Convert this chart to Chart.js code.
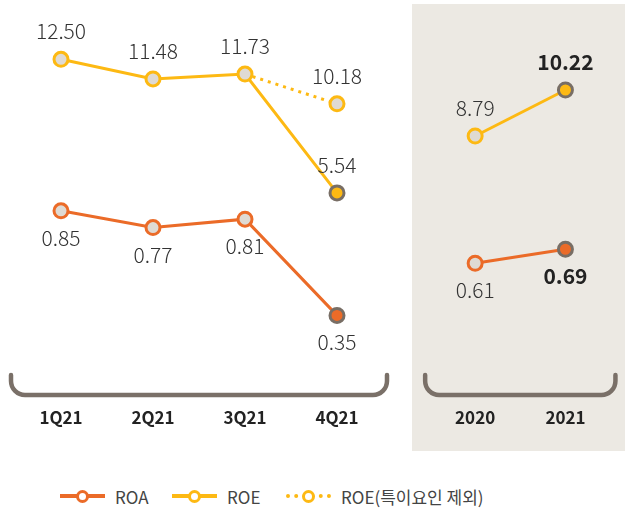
<!DOCTYPE html>
<html>
<head>
<meta charset="utf-8">
<script src="https://cdn.jsdelivr.net/npm/chart.js@4"></script>
<style>
    html, body { margin: 0; padding: 0; background: #fff; }
    body { width: 625px; height: 510px; position: relative; overflow: hidden; font-family: 'Noto Sans CJK KR', 'Noto Sans', sans-serif; }
    #panel { position: absolute; left: 412px; top: 4px; width: 213px; height: 447px; background: #ECE9E3; }
    #quarterChart { position: absolute; left: 0; top: 0; }
    #yearChart { position: absolute; left: 412px; top: 0; }
    .legend { position: absolute; top: 483px; left: 0; width: 625px; height: 26px; }
    .item { position: absolute; top: 0; height: 26px; display: flex; align-items: center; font-size: 17px; color: #444; }
    .swatch { position: relative; width: 45px; height: 26px; margin-right: 10px; }
    .swatch .ln { position: absolute; left: 0; right: 0; top: 11px; height: 0; border-top: 4px solid; }
    .swatch .ln.dot { border-top: 4px dotted; }
    .swatch .mk { position: absolute; left: 16px; top: 7px; width: 7px; height: 7px; border: 3.5px solid; border-radius: 50%; background: #fff; }
</style>
</head>
<body>
<div id="panel"></div>
<canvas id="quarterChart" width="400" height="460"></canvas>
<canvas id="yearChart" width="213" height="460"></canvas>
<div class="legend">
    <div class="item" style="left:60px"><div class="swatch"><div class="ln" style="border-color:#EB6B28"></div><div class="mk" style="border-color:#EB6B28"></div></div>ROA</div>
    <div class="item" style="left:172px"><div class="swatch"><div class="ln" style="border-color:#FDB913"></div><div class="mk" style="border-color:#FDB913"></div></div>ROE</div>
    <div class="item" style="left:286px"><div class="swatch"><div class="ln dot" style="border-color:#FDB913"></div><div class="mk" style="border-color:#FDB913"></div></div>ROE(특이요인 제외)</div>
</div>
<script>
// Quarterly figures (%)
const quarterLabels = ['1Q21', '2Q21', '3Q21', '4Q21'];
const roeQuarter = [12.50, 11.48, 11.73, 5.54];
const roeAdjQuarter = [null, null, 11.73, 10.18];
const roaQuarter = [0.85, 0.77, 0.81, 0.35];

// Annual figures (%)
const yearLabels = ['2020', '2021'];
const roeYear = [8.79, 10.22];
const roaYear = [0.61, 0.69];

const ORANGE = '#EB6B28';
const YELLOW = '#FDB913';
const MARKER_FILL = '#DFDAD3';
const MARKER_EDGE = '#786E65';
const BRACKET = '#7A7068';

// last point is highlighted (filled, grey ring)
function pointFill(values, color, highlight) {
    return values.map((_, i) => (highlight && i === values.length - 1) ? color : MARKER_FILL);
}
function pointEdge(values, color, highlight) {
    return values.map((_, i) => (highlight && i === values.length - 1) ? MARKER_EDGE : color);
}

function lineSet(label, values, color, axis, opts) {
    return Object.assign({
        label: label,
        data: values,
        yAxisID: axis,
        borderColor: color,
        borderWidth: 3,
        pointRadius: 7,
        pointBorderWidth: 3,
        pointBackgroundColor: pointFill(values, color, true),
        pointBorderColor: pointEdge(values, color, true),
        spanGaps: false,
        tension: 0
    }, opts || {});
}

// value labels drawn next to each point
const valueLabels = {
    id: 'valueLabels',
    afterDatasetsDraw(chart) {
        const ctx = chart.ctx;
        ctx.save();
        ctx.textAlign = 'center';
        ctx.textBaseline = 'middle';
        chart.data.datasets.forEach((ds, di) => {
            const meta = chart.getDatasetMeta(di);
            ds.data.forEach((v, i) => {
                if (v === null || (ds.skipLabels && ds.skipLabels.includes(i))) return;
                const pt = meta.data[i];
                const bold = ds.boldLast && i === ds.data.length - 1;
                ctx.font = (bold ? 'bold ' : '300 ') + '21px "Noto Sans CJK KR", "Noto Sans", sans-serif';
                ctx.fillStyle = bold ? '#222' : '#333';
                const dy = ds.labelPos === 'below' ? 27 : -28;
                ctx.fillText(v.toFixed(2), pt.x, pt.y + dy);
            });
        });
        ctx.restore();
    }
};

// rounded bracket under the points
const bracket = {
    id: 'bracket',
    afterDraw(chart) {
        const meta = chart.getDatasetMeta(0);
        const x0 = meta.data[0].x - 50;
        const x1 = meta.data[meta.data.length - 1].x + 50;
        const top = chart.chartArea.bottom + 5;
        const bottom = top + 20;
        const r = 14;
        const ctx = chart.ctx;
        ctx.save();
        ctx.strokeStyle = BRACKET;
        ctx.lineWidth = 4.5;
        ctx.lineCap = 'round';
        ctx.beginPath();
        ctx.moveTo(x0, top);
        ctx.lineTo(x0, bottom - r);
        ctx.arcTo(x0, bottom, x0 + r, bottom, r);
        ctx.lineTo(x1 - r, bottom);
        ctx.arcTo(x1, bottom, x1, bottom - r, r);
        ctx.lineTo(x1, top);
        ctx.stroke();
        ctx.restore();
    }
};

function baseOptions(padLeft, padRight, roeRange, roaRange) {
    return {
        responsive: false,
        animation: false,
        layout: { padding: { left: padLeft, right: padRight, top: 20, bottom: 0 } },
        plugins: { legend: { display: false }, tooltip: { enabled: false } },
        scales: {
            x: {
                type: 'category',
                offset: true,
                grid: { display: false, drawTicks: false },
                border: { display: false },
                ticks: {
                    padding: 37,
                    color: '#222',
                    font: { family: '"Noto Sans CJK KR", "Noto Sans", sans-serif', size: 17, weight: 'bold' }
                },
                afterFit: (scale) => { scale.height = 90; }
            },
            yRoe: { display: false, min: roeRange[0], max: roeRange[1] },
            yRoa: { display: false, min: roaRange[0], max: roaRange[1] }
        }
    };
}

new Chart(document.getElementById('quarterChart'), {
    type: 'line',
    data: {
        labels: quarterLabels,
        datasets: [
            lineSet('ROE', roeQuarter, YELLOW, 'yRoe', { labelPos: 'above', order: 1 }),
            lineSet('ROA', roaQuarter, ORANGE, 'yRoa', { labelPos: 'below', order: 2 }),
            lineSet('ROE(특이요인 제외)', roeAdjQuarter, YELLOW, 'yRoe', {
                labelPos: 'above',
                order: 3,
                skipLabels: [2],
                borderDash: [3, 5],
                pointRadius: [0, 0, 0, 7],
                pointBackgroundColor: MARKER_FILL,
                pointBorderColor: YELLOW
            })
        ]
    },
    options: baseOptions(15, 17, [-3.69, 14.549], [0.089, 1.762]),
    plugins: [valueLabels, bracket]
});

new Chart(document.getElementById('yearChart'), {
    type: 'line',
    data: {
        labels: yearLabels,
        datasets: [
            lineSet('ROE', roeYear, YELLOW, 'yRoe', { labelPos: 'above', boldLast: true }),
            lineSet('ROA', roaYear, ORANGE, 'yRoa', { labelPos: 'below', boldLast: true })
        ]
    },
    options: baseOptions(18, 10, [1.516, 12.396], [0, 2.0]),
    plugins: [valueLabels, bracket]
});
</script>
</body>
</html>
